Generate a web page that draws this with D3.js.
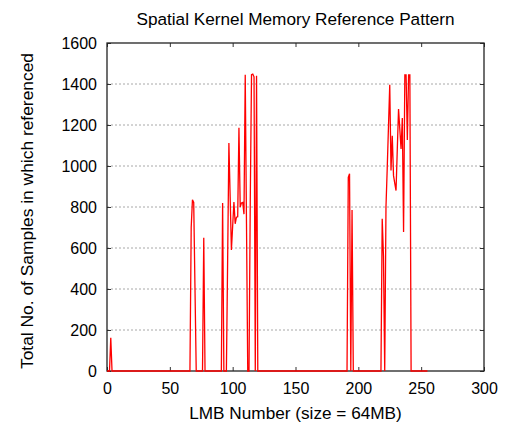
<!DOCTYPE html>
<html>
<head>
<meta charset="utf-8">
<script src="https://cdn.jsdelivr.net/npm/d3@7"></script>
<style>
  html, body { margin: 0; padding: 0; background: #fff; }
  svg { display: block; }
  text { font-family: "Liberation Sans", Arial, Helvetica, sans-serif; fill: #000; }
</style>
</head>
<body>
<svg id="chart" width="509" height="423"></svg>
<script>
// ---- data ----
const lmbNumber = [0, 2, 3, 4, 66, 67, 68, 69, 70, 71, 76, 77, 78, 91, 92, 93, 95, 96, 97, 98, 99, 100,
  101, 102, 103, 104, 105, 106, 107, 108, 109, 110, 111, 112, 113, 114, 115, 116, 117, 118, 119, 120,
  191, 192, 193, 194, 195, 196, 218, 219, 220, 221, 222, 223, 224, 225, 226, 227, 228, 229, 230,
  231, 232, 233, 234, 235, 236, 237, 238, 239, 240, 241, 242, 255];
const sampleCount = [0, 0, 162, 0, 0, 700, 835, 822, 410, 0, 0, 650, 0, 0, 820, 0, 0, 540, 1112, 850, 590, 707,
  824, 718, 750, 752, 1186, 800, 820, 822, 765, 1445, 720, 0, 0, 824, 1445, 1448, 1435, 0, 1440, 0,
  0, 945, 962, 0, 785, 0, 0, 743, 560, 0, 800, 990, 1195, 1396, 978, 1148, 953, 915, 880,
  1080, 1278, 1180, 1083, 1234, 678, 1445, 1445, 1127, 1445, 1445, 0, 0];

const xTicks = [0, 50, 100, 150, 200, 250, 300];
const yTicks = [0, 200, 400, 600, 800, 1000, 1200, 1400, 1600];
const gridValues = [200, 400, 600, 800, 1000, 1200, 1400];

const titleText = "Spatial Kernel Memory Reference Pattern";
const xLabelText = "LMB Number (size = 64MB)";
const yLabelText = "Total No. of Samples in which referenced";

// ---- layout ----
const svg = d3.select("#chart");
const plot = { left: 107, right: 484, top: 43, bottom: 371 };

const x = d3.scaleLinear().domain([0, 300]).range([plot.left, plot.right]);
const y = d3.scaleLinear().domain([0, 1600]).range([plot.bottom, plot.top]);

// grid
svg.append("g").selectAll("line").data(gridValues).join("line")
  .attr("x1", plot.left).attr("x2", plot.right)
  .attr("y1", d => y(d)).attr("y2", d => y(d))
  .attr("stroke", "#a8a8a8").attr("stroke-width", 1)
  .attr("stroke-dasharray", "2,2");

// axes
const tickLen = 4;
const gx = svg.append("g").attr("transform", `translate(0,${plot.bottom})`)
  .call(d3.axisBottom(x).tickValues(xTicks).tickSize(-tickLen).tickPadding(11.6).tickFormat(d3.format("d")));
const gy = svg.append("g").attr("transform", `translate(${plot.left},0)`)
  .call(d3.axisLeft(y).tickValues(yTicks).tickSize(-tickLen).tickPadding(10).tickFormat(d3.format("d")));
const gxt = svg.append("g").attr("transform", `translate(0,${plot.top})`)
  .call(d3.axisTop(x).tickValues(xTicks).tickSize(-tickLen).tickFormat(""));
const gyr = svg.append("g").attr("transform", `translate(${plot.right},0)`)
  .call(d3.axisRight(y).tickValues(yTicks).tickSize(-tickLen).tickFormat(""));

[gx, gy, gxt, gyr].forEach(g => {
  g.select(".domain").remove();
  g.selectAll(".tick line").attr("stroke", "#333").attr("stroke-width", 1);
  g.selectAll("text").attr("font-size", 16).attr("font-family", "Liberation Sans, Arial, sans-serif").attr("fill", "#000");
});

// frame
svg.append("rect")
  .attr("x", plot.left).attr("y", plot.top)
  .attr("width", plot.right - plot.left).attr("height", plot.bottom - plot.top)
  .attr("fill", "none").attr("stroke", "#222").attr("stroke-width", 1.3);

// data line
const pts = lmbNumber.map((v, i) => [v, sampleCount[i]]);
svg.append("path")
  .datum(pts)
  .attr("fill", "none")
  .attr("stroke", "#ff0000")
  .attr("stroke-width", 1.3)
  .attr("stroke-linejoin", "miter")
  .attr("d", d3.line().x(d => x(d[0])).y(d => y(d[1])));

// title and labels
svg.append("text")
  .attr("x", (plot.left + plot.right) / 2).attr("y", 25)
  .attr("text-anchor", "middle").attr("font-size", 17.2)
  .text(titleText);

svg.append("text")
  .attr("x", (plot.left + plot.right) / 2).attr("y", 419)
  .attr("text-anchor", "middle").attr("font-size", 17.2)
  .text(xLabelText);

svg.append("text")
  .attr("transform", `translate(33,211) rotate(-90)`)
  .attr("text-anchor", "middle").attr("font-size", 17.4)
  .text(yLabelText);
</script>
</body>
</html>
